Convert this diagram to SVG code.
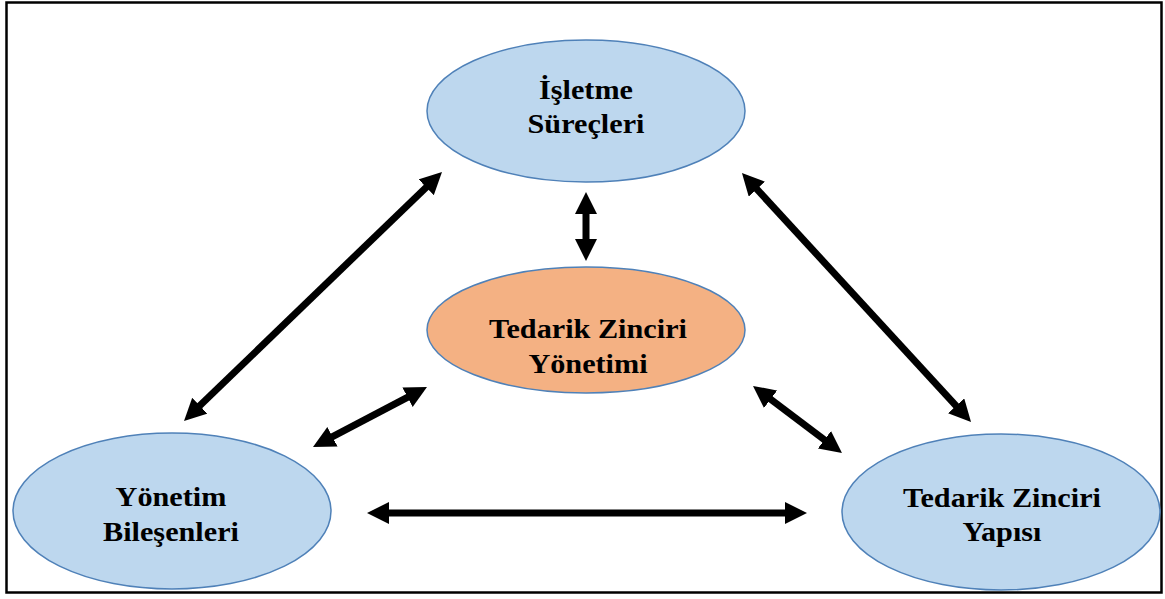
<svg xmlns="http://www.w3.org/2000/svg" width="1165" height="599" viewBox="0 0 1165 599">
  <style>
    .node { stroke: #4f81b8; stroke-width: 1.5; }
    .blue { fill: #bdd7ee; }
    .orange { fill: #f4b183; }
    .label { font-family: "Liberation Serif", "Times New Roman", serif; font-weight: bold; font-size: 27px; fill: #000; text-anchor: middle; }
    .link { stroke: #000; stroke-width: 7; fill: none; marker-start: url(#head); marker-end: url(#head); }
  </style>
  <defs>
    <marker id="head" viewBox="0 0 22 22" refX="2" refY="11" markerWidth="22" markerHeight="22" markerUnits="userSpaceOnUse" orient="auto-start-reverse">
      <path d="M0,0 L22,11 L0,22 Z" fill="#000"/>
    </marker>
  </defs>

  <rect x="6.5" y="2.5" width="1155" height="590" fill="#fff" stroke="#000" stroke-width="2.5"/>

  <g id="connectors">
    <line class="link" x1="198.4" y1="407.1" x2="427.6" y2="185.9"/>
    <line class="link" x1="755.5" y1="187.7" x2="957.5" y2="407.3"/>
    <line class="link" x1="586" y1="212" x2="586" y2="241"/>
    <line class="link" x1="330.7" y1="437.7" x2="409.3" y2="396.3"/>
    <line class="link" x1="769" y1="398" x2="826" y2="441"/>
    <line class="link" x1="387" y1="513" x2="787" y2="513"/>
  </g>

  <g id="isletme-surecleri">
    <ellipse class="node blue" cx="586" cy="111" rx="159" ry="71"/>
    <g transform="translate(586 0) scale(1.12 1)">
      <text class="label" x="0" y="99">İşletme</text>
      <text class="label" x="0" y="133">Süreçleri</text>
    </g>
  </g>

  <g id="tzy">
    <ellipse class="node orange" cx="586" cy="330" rx="159" ry="63"/>
    <g transform="translate(588 0) scale(1.12 1)">
      <text class="label" x="0" y="338">Tedarik Zinciri</text>
      <text class="label" x="0" y="373">Yönetimi</text>
    </g>
  </g>

  <g id="yonetim-bilesenleri">
    <ellipse class="node blue" cx="172" cy="511" rx="159" ry="78"/>
    <g transform="translate(171 0) scale(1.12 1)">
      <text class="label" x="0" y="506">Yönetim</text>
      <text class="label" x="0" y="541">Bileşenleri</text>
    </g>
  </g>

  <g id="tz-yapisi">
    <ellipse class="node blue" cx="1001" cy="512" rx="159" ry="78"/>
    <g transform="translate(1002 0) scale(1.12 1)">
      <text class="label" x="0" y="507">Tedarik Zinciri</text>
      <text class="label" x="0" y="541">Yapısı</text>
    </g>
  </g>
</svg>
